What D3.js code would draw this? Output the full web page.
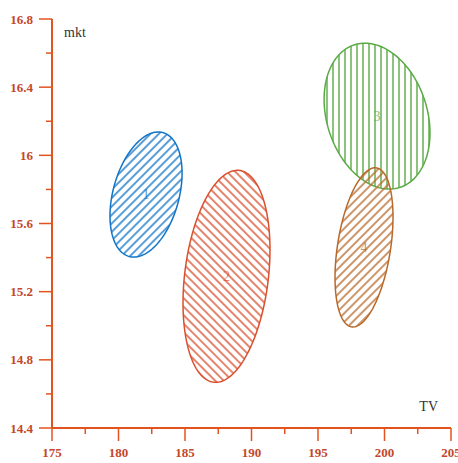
<!DOCTYPE html>
<html lang="en">
<head>
    <meta charset="UTF-8">
    <title>mkt vs TV clusters</title>
    <style>
        body { margin: 0; background: #fff; }
        #chart { width: 458px; height: 463px; }
        .tick-label { font-family: "Liberation Serif", "Times New Roman", serif; font-weight: bold; font-size: 13px; fill: #c4472a; }
        .axis-title { font-family: "Liberation Serif", "Times New Roman", serif; font-size: 14px; fill: #333; }
        .cl-label { font-family: "Liberation Serif", "Times New Roman", serif; font-size: 14px; }
    </style>
</head>
<body>
    <div id="chart"></div>

    <script src="https://d3js.org/d3.v7.min.js"></script>
    <script>
        // cluster data (data units)
        const clusterIds = ['1', '2', '3', '4'];
        const centerTV = [182.07, 188.12, 199.44, 198.46];
        const centerMkt = [15.77, 15.29, 16.23, 15.46];
        const spreadTV = [2.71, 3.27, 3.98, 2.18];    // half width of ellipse
        const spreadMkt = [0.367, 0.622, 0.428, 0.467]; // half height of ellipse
        const corr = [0.34, 0.25, -0.23, 0.38];
        const colors = ['#1274c6', '#d9502e', '#5aaa45', '#b8692a'];
        const hatch = ['fwd', 'back', 'vert', 'fwd'];

        const xTicks = [175, 180, 185, 190, 195, 200, 205];
        const yTicks = [14.4, 14.8, 15.2, 15.6, 16, 16.4, 16.8];

        const axisColor = '#e2531f';
        const W = 458, H = 463;
        const x = d3.scaleLinear().domain([175, 205]).range([52, 451]);
        const y = d3.scaleLinear().domain([14.4, 16.8]).range([428, 19]);

        const svg = d3.select('#chart').append('svg')
            .attr('width', W).attr('height', H);

        // hatch patterns
        const defs = svg.append('defs');
        clusterIds.forEach((id, i) => {
            const rot = hatch[i] === 'fwd' ? 45 : hatch[i] === 'back' ? -45 : 0;
            const p = defs.append('pattern')
                .attr('id', 'hatch' + i)
                .attr('patternUnits', 'userSpaceOnUse')
                .attr('width', 6).attr('height', 6)
                .attr('patternTransform', 'rotate(' + rot + ')');
            p.append('line')
                .attr('x1', 3).attr('y1', -1).attr('x2', 3).attr('y2', 7)
                .attr('stroke', colors[i]).attr('stroke-width', 1.4);
        });

        // ellipses: c + k*L*(cos t, sin t) in data space
        const ts = d3.range(0, 2 * Math.PI + 0.001, Math.PI / 90);
        const line = d3.line().x(d => x(d[0])).y(d => y(d[1])).curve(d3.curveLinearClosed);
        clusterIds.forEach((id, i) => {
            const pts = ts.map(t => [
                centerTV[i] + spreadTV[i] * Math.cos(t),
                centerMkt[i] + spreadMkt[i] * (corr[i] * Math.cos(t) + Math.sqrt(1 - corr[i] * corr[i]) * Math.sin(t))
            ]);
            svg.append('path')
                .attr('d', line(pts))
                .attr('fill', 'url(#hatch' + i + ')')
                .attr('stroke', colors[i])
                .attr('stroke-width', 1.5);
            svg.append('text')
                .attr('class', 'cl-label')
                .attr('x', x(centerTV[i]))
                .attr('y', y(centerMkt[i]))
                .attr('dy', '0.35em')
                .attr('text-anchor', 'middle')
                .attr('fill', colors[i])
                .attr('opacity', 0.7)
                .text(id);
        });

        // axes
        const gx = svg.append('g').attr('transform', 'translate(0,' + y(14.4) + ')');
        gx.append('line').attr('x1', x(175)).attr('x2', x(205)).attr('stroke', axisColor).attr('stroke-width', 2);
        d3.range(175, 205.1, 2.5).forEach(v => {
            const major = v % 5 === 0;
            gx.append('line').attr('x1', x(v)).attr('x2', x(v))
                .attr('y1', 0).attr('y2', major ? 13 : 6)
                .attr('stroke', axisColor).attr('stroke-width', 1.5);
        });
        xTicks.forEach(v => {
            gx.append('text').attr('class', 'tick-label')
                .attr('x', x(v)).attr('y', 29).attr('text-anchor', 'middle').text(v);
        });

        const gy = svg.append('g').attr('transform', 'translate(' + x(175) + ',0)');
        gy.append('line').attr('y1', y(14.4)).attr('y2', y(16.8)).attr('stroke', axisColor).attr('stroke-width', 2);
        d3.range(0, 13).map(k => 14.4 + k * 0.2).forEach((v, k) => {
            const major = k % 2 === 0;
            gy.append('line').attr('y1', y(v)).attr('y2', y(v))
                .attr('x1', major ? -13 : -6).attr('x2', 0)
                .attr('stroke', axisColor).attr('stroke-width', 1.5);
        });
        yTicks.forEach(v => {
            gy.append('text').attr('class', 'tick-label')
                .attr('x', -19).attr('y', y(v)).attr('dy', '0.35em')
                .attr('text-anchor', 'end').text(v);
        });

        svg.append('text').attr('class', 'axis-title').attr('x', 64).attr('y', 37).text('mkt');
        svg.append('text').attr('class', 'axis-title').attr('x', 438).attr('y', 411).attr('text-anchor', 'end').text('TV');
    </script>
</body>
</html>
